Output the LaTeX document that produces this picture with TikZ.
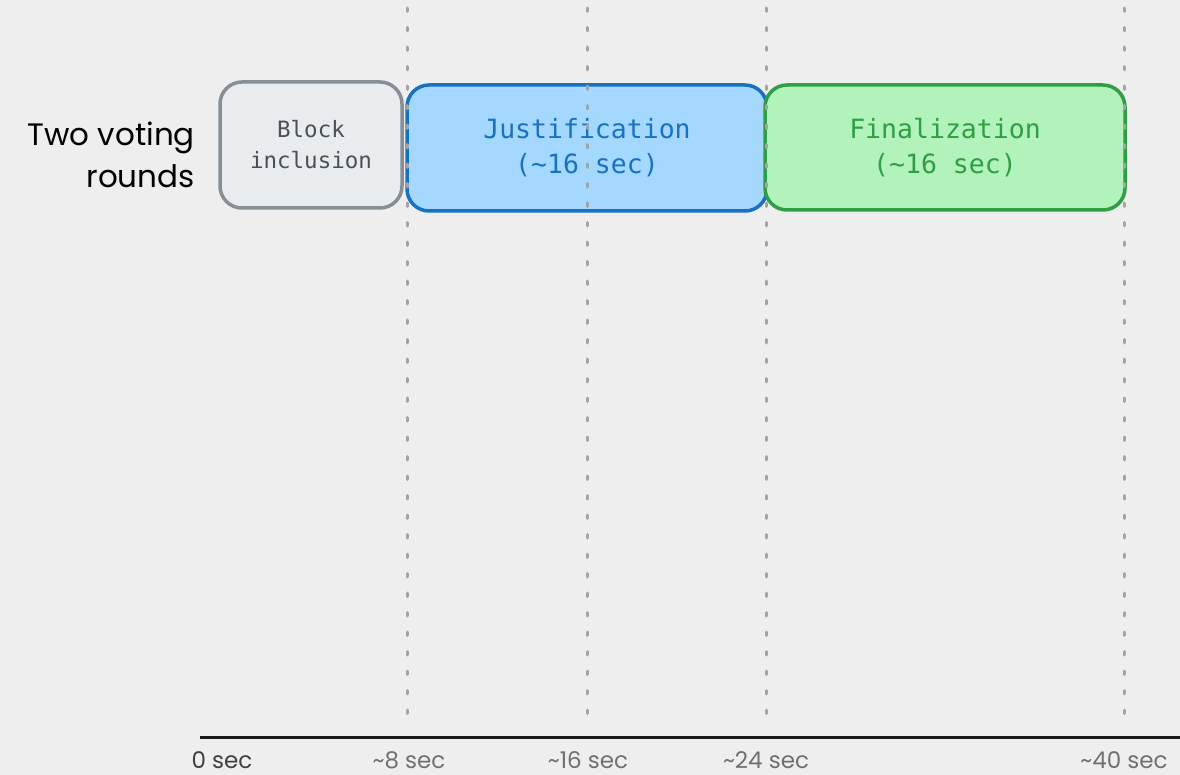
\documentclass[tikz,border=0pt]{standalone}
\usepackage{fontspec}
\setmainfont{Poppins}
\setmonofont{DejaVu Sans Mono}
\definecolor{bgc}{HTML}{EEEEEE}
\definecolor{guide}{HTML}{A3A3A3}
\definecolor{grayfill}{HTML}{E9ECEF}
\definecolor{graydraw}{HTML}{868E96}
\definecolor{graytext}{HTML}{495057}
\definecolor{bluefill}{HTML}{A5D8FF}
\definecolor{bluedraw}{HTML}{1971C2}
\definecolor{greenfill}{HTML}{B2F2BB}
\definecolor{greendraw}{HTML}{2F9E44}
\definecolor{ticktext}{HTML}{707070}
\begin{document}
\begin{tikzpicture}[x=1pt,y=-1pt,
  phase/.style={rounded corners=22pt, line width=3.5pt, align=center, inner sep=0pt},
  guideline/.style={guide, line width=3pt, line cap=round, dash pattern=on 3.5pt off 16pt},
  ticklabel/.style={font=\fontsize{23}{26}\selectfont, text=ticktext, inner sep=0pt}]
\fill[bgc] (0,0) rectangle (1180,775);
\useasboundingbox (0,0) rectangle (1180,775);

\node[phase, fill=grayfill, draw=graydraw, text=graytext, minimum width=182pt, minimum height=126pt,
  font=\ttfamily\fontsize{22.5}{31}\selectfont] (block) at (311,145) {Block\\inclusion};
\node[phase, fill=bluefill, draw=bluedraw, text=bluedraw, minimum width=360pt, minimum height=126pt,
  font=\ttfamily\fontsize{26.5}{35}\selectfont] (just) at (587,148) {Justification\\(\textasciitilde16 sec)};
\node[phase, fill=greenfill, draw=greendraw, text=greendraw, minimum width=360pt, minimum height=125pt,
  font=\ttfamily\fontsize{26.5}{35}\selectfont] (final) at (945,147.5) {Finalization\\(\textasciitilde16 sec)};

\node[anchor=east, align=right, inner sep=0pt, font=\fontsize{31}{42}\selectfont] (label) at (195,155) {Two voting\\rounds};

\foreach \x/\n in {407/a,587/b,766/c,1124/d}{
  \coordinate (top\n) at (\x,8);
  \coordinate (bot\n) at (\x,720);
  \draw[guideline] (top\n) -- (bot\n);
}

\coordinate (axisL) at (200,737);
\coordinate (axisR) at (1180,737);
\draw[line width=3pt, black!90] (axisL) -- (axisR);

\node[ticklabel, text=black!75] (t0) at (222,760) {0 sec};
\node[ticklabel] (t8) at (409,760) {\textasciitilde8 sec};
\node[ticklabel] (t16) at (588,760) {\textasciitilde16 sec};
\node[ticklabel] (t24) at (766,760) {\textasciitilde24 sec};
\node[ticklabel] (t40) at (1124,760) {\textasciitilde40 sec};
\end{tikzpicture}
\end{document}
